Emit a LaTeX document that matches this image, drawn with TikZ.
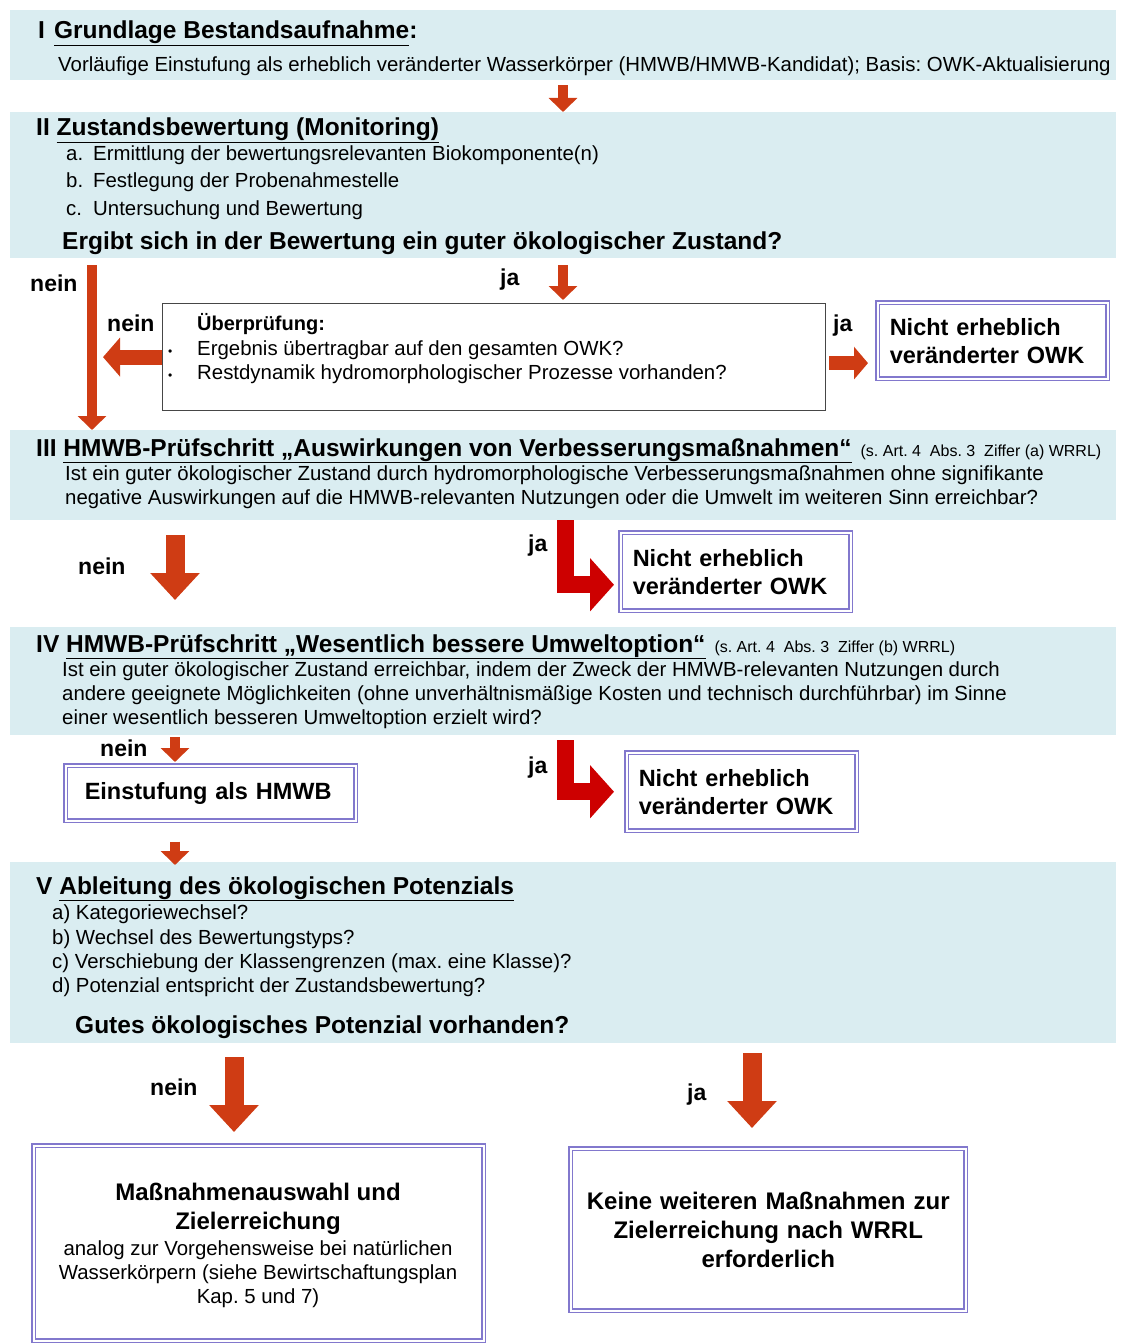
\documentclass[tikz,border=0pt]{standalone}
\usepackage{fontspec}
\setmainfont{Liberation Sans}
\usetikzlibrary{arrows.meta}

\definecolor{bandblue}{RGB}{218,237,241}
\definecolor{boxpurple}{RGB}{130,120,205}
\definecolor{arrowred}{RGB}{207,60,20}
\definecolor{turnred}{RGB}{205,0,0}
\definecolor{checkgray}{RGB}{70,70,70}

\newcommand{\bodyfont}{\fontsize{20.4}{24}\selectfont}
\newcommand{\headfont}{\fontsize{24.5}{29}\selectfont\bfseries}
\newcommand{\refnote}{\fontsize{16}{18}\selectfont\mdseries}
\frenchspacing

\begin{document}
\begin{tikzpicture}[x=1pt, y=-1pt,
  band/.style={fill=bandblue, anchor=north west, inner sep=0pt, minimum width=1106pt},
  head/.style={anchor=base west, inner sep=0pt, font=\headfont},
  txt/.style={anchor=base west, inner sep=0pt, font=\bodyfont},
  answer/.style={anchor=base west, inner sep=0pt, font=\fontsize{23}{27}\selectfont\bfseries},
  result/.style={draw=boxpurple, double=white, double distance=2pt, line width=1.5pt, fill=white,
    anchor=north west, inner sep=0pt, font=\fontsize{23.5}{28}\selectfont\bfseries},
  blk/.style={draw=arrowred, line width=10pt, -{Triangle[width=28pt,length=14pt]}},
  bigblk/.style={draw=arrowred, line width=19pt, -{Triangle[width=48pt,length=27pt]}},
  turn/.style={draw=turnred, line width=17pt, line join=miter, -{Triangle[width=52pt,length=24pt]}}
]
\useasboundingbox (0,0) rectangle (1120,1343);

% Define bands
\node[band, minimum height=70pt] (Band_I) at (10,10) {};
\node[band, minimum height=146pt] (Band_II) at (10,112) {};
\node[band, minimum height=90pt] (Band_III) at (10,430) {};
\node[band, minimum height=108pt] (Band_IV) at (10,627) {};
\node[band, minimum height=181pt] (Band_V) at (10,862) {};

% Define arrow columns
\coordinate (col_mid) at (563,0);
\coordinate (col_nein) at (92,0);
\coordinate (col_left) at (175,0);
\coordinate (col_turn) at (565,0);
\coordinate (col_no) at (234,0);
\coordinate (col_yes) at (752,0);

% Define band texts
\node[head] (Title_I) at (38,39) {I\hspace{9pt}\underline{Grundlage Bestandsaufnahme}:};
\node[txt] (Text_I) at (58,72) {Vorläufige Einstufung als erheblich veränderter Wasserkörper (HMWB/HMWB-Kandidat); Basis: OWK-Aktualisierung};

\node[head] (Title_II) at (36,136) {II \underline{Zustandsbewertung (Monitoring)}};
\node[txt] (Item_IIa) at (66,161) {\makebox[27pt][l]{a.}Ermittlung der bewertungsrelevanten Biokomponente(n)};
\node[txt] (Item_IIb) at (66,188) {\makebox[27pt][l]{b.}Festlegung der Probenahmestelle};
\node[txt] (Item_IIc) at (66,215) {\makebox[27pt][l]{c.}Untersuchung und Bewertung};
\node[head] (Question_II) at (62,249) {Ergibt sich in der Bewertung ein guter ökologischer Zustand?};

\node[head] (Title_III) at (36,456) {III \underline{HMWB-Prüfschritt „Auswirkungen von Verbesserungsmaßnahmen“}\hspace{9pt}{\refnote (s. Art. 4 \ Abs. 3 \ Ziffer (a) WRRL)}};
\node[txt] (Text_IIIa) at (65,480) {Ist ein guter ökologischer Zustand durch hydromorphologische Verbesserungsmaßnahmen ohne signifikante};
\node[txt] (Text_IIIb) at (65,504) {negative Auswirkungen auf die HMWB-relevanten Nutzungen oder die Umwelt im weiteren Sinn erreichbar?};

\node[head] (Title_IV) at (36,652) {IV \underline{HMWB-Prüfschritt „Wesentlich bessere Umweltoption“}\hspace{9pt}{\refnote (s. Art. 4 \ Abs. 3 \ Ziffer (b) WRRL)}};
\node[txt] (Text_IVa) at (62,676) {Ist ein guter ökologischer Zustand erreichbar, indem der Zweck der HMWB-relevanten Nutzungen durch};
\node[txt] (Text_IVb) at (62,700) {andere geeignete Möglichkeiten (ohne unverhältnismäßige Kosten und technisch durchführbar) im Sinne};
\node[txt] (Text_IVc) at (62,724) {einer wesentlich besseren Umweltoption erzielt wird?};

\node[head] (Title_V) at (36,894) {V \underline{Ableitung des ökologischen Potenzials}};
\node[txt] (Item_Va) at (52,919) {a) Kategoriewechsel?};
\node[txt] (Item_Vb) at (52,944) {b) Wechsel des Bewertungstyps?};
\node[txt] (Item_Vc) at (52,968) {c) Verschiebung der Klassengrenzen (max. eine Klasse)?};
\node[txt] (Item_Vd) at (52,992) {d) Potenzial entspricht der Zustandsbewertung?};
\node[head] (Question_V) at (75,1033) {Gutes ökologisches Potenzial vorhanden?};

% Define check box
\node[draw=checkgray, line width=1.2pt, fill=white, anchor=north west, minimum width=663pt, minimum height=107pt, inner sep=0pt] (Check) at (162,303) {};
\node[anchor=base west, inner sep=0pt, font=\fontsize{20}{24}\selectfont\bfseries] (Check_Title) at (197,330) {Überprüfung:};
\node[txt] (Check_a) at (168,355) {\makebox[29pt][l]{\fontsize{12}{12}\selectfont •}Ergebnis übertragbar auf den gesamten OWK?};
\node[txt] (Check_b) at (168,379) {\makebox[29pt][l]{\fontsize{12}{12}\selectfont •}Restdynamik hydromorphologischer Prozesse vorhanden?};

% Define result boxes
\node[result, minimum width=230pt, minimum height=76pt, text width=206pt, inner xsep=12pt, align=left] (Result_II) at (877,302) {Nicht erheblich\\veränderter OWK};
\node[result, minimum width=230pt, minimum height=78pt, text width=206pt, inner xsep=12pt, align=left] (Result_III) at (620,532) {Nicht erheblich\\veränderter OWK};
\node[result, minimum width=230pt, minimum height=78pt, text width=206pt, inner xsep=12pt, align=left] (Result_IV) at (626,752) {Nicht erheblich\\veränderter OWK};
\node[result, minimum width=290pt, minimum height=55pt, text width=252pt, inner xsep=19pt, align=left] (HMWB) at (65,765) {Einstufung als HMWB};
\node[result, minimum width=450pt, minimum height=195pt] (Final_No) at (33,1145) {};
\node[align=center, inner sep=0pt, font=\fontsize{24}{29}\selectfont\bfseries] (Final_No_Title) at (258,1209) {Maßnahmenauswahl und\\Zielerreichung};
\node[align=center, inner sep=0pt, font=\bodyfont] (Final_No_Text) at (258,1274) {analog zur Vorgehensweise bei natürlichen\\Wasserkörpern (siehe Bewirtschaftungsplan\\Kap. 5 und 7)};
\node[result, minimum width=395pt, minimum height=162pt, text width=375pt, align=center, font=\fontsize{24}{29}\selectfont\bfseries] (Final_Yes) at (570,1148)
  {Keine weiteren Maßnahmen zur\\Zielerreichung nach WRRL\\erforderlich};

% Define answers
\node[answer] (Nein_II) at (30,291) {nein};
\node[answer] (Ja_II) at (500,285) {ja};
\node[answer] (Nein_Check) at (107,331) {nein};
\node[answer] (Ja_Check) at (833,331) {ja};
\node[answer] (Nein_III) at (78,574) {nein};
\node[answer] (Ja_III) at (528,551) {ja};
\node[answer] (Nein_IV) at (100,756) {nein};
\node[answer] (Ja_IV) at (528,773) {ja};
\node[answer] (Nein_V) at (150,1095) {nein};
\node[answer] (Ja_V) at (687,1100) {ja};

% Define arrows
\coordinate (Check_out) at ([yshift=-6pt]Check.east);
\coordinate (Turn_III) at ([yshift=-13pt]Result_III.west);
\draw[blk, shorten <=5pt] (Band_I.south -| col_mid) -- (Band_II.north -| col_mid);
\draw[blk, shorten <=7pt] (Band_II.south -| col_nein) -- (Band_III.north -| col_nein);
\draw[blk, shorten <=7pt, shorten >=3pt] (Band_II.south -| col_mid) -- (Check.north -| col_mid);
\draw[blk, line width=15pt, -{Triangle[width=38pt,length=17pt]}, shorten >=11pt] (Check.west) -- (Check.west -| col_nein);
\draw[blk, line width=14pt, -{Triangle[width=32pt,length=14pt]}, shorten <=3pt, shorten >=9pt] (Check_out) -- (Check_out -| Result_II.west);
\draw[bigblk, shorten <=15pt, shorten >=27pt] (Band_III.south -| col_left) -- (Band_IV.north -| col_left);
\draw[turn, shorten >=6pt] (Band_III.south -| col_turn) |- (Turn_III);
\draw[blk, shorten <=2pt, shorten >=3pt] (Band_IV.south -| col_left) -- (HMWB.north -| col_left);
\draw[turn, shorten <=5pt, shorten >=12pt] (Band_IV.south -| col_turn) |- (Result_IV.west);
\draw[blk, shorten <=20pt, shorten >=-3pt] (HMWB.south -| col_left) -- (Band_V.north -| col_left);
\draw[bigblk, shorten <=14pt, shorten >=13pt] (Band_V.south -| col_no) -- (Final_No.north -| col_no);
\draw[bigblk, shorten <=10pt, shorten >=20pt] (Band_V.south -| col_yes) -- (Final_Yes.north -| col_yes);
\end{tikzpicture}
\end{document}
